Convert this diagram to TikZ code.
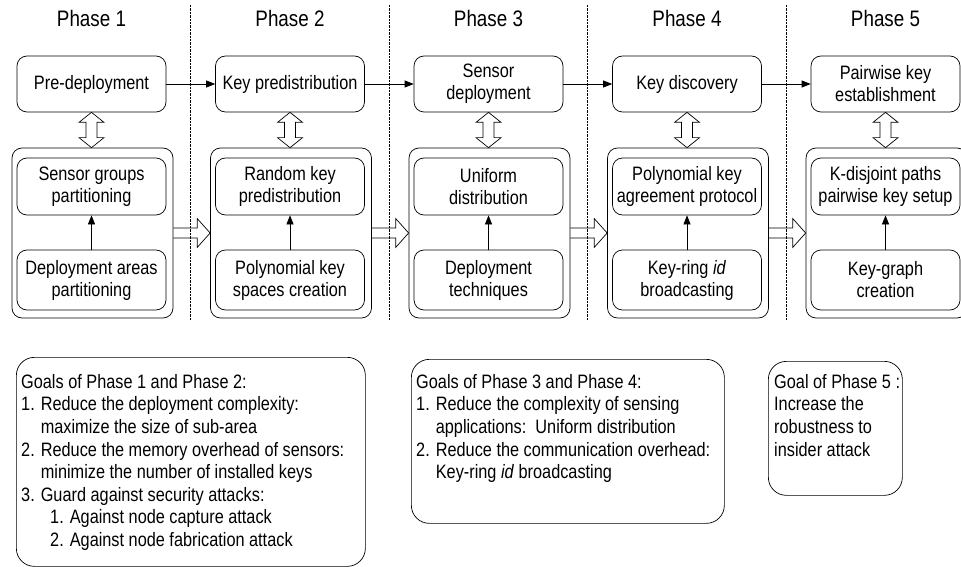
\documentclass[tikz,border=0pt]{standalone}
\usepackage{fontspec}
\setmainfont[FakeStretch=0.84]{Liberation Sans}
\usetikzlibrary{calc,arrows.meta}

\newcommand\phfont{\fontsize{22.4}{25}\selectfont}
\newcommand\bxfont{\fontsize{19.4}{22}\selectfont}
\newcommand\glfont{\fontsize{19.4}{22.6}\selectfont}

% vertical hollow double arrow between a phase box and its detail frame
\newcommand\vdarrow[2]{%
  \draw[outl] let \p1=(#1.south), \p2=(#2.north) in
    (\x1,\y1) -- (\x1+12.5pt,\y1-10pt) -- (\x1+5.5pt,\y1-10pt) --
    (\x1+5.5pt,\y2+10pt) -- (\x1+12.5pt,\y2+10pt) -- (\x1,\y2) --
    (\x1-12.5pt,\y2+10pt) -- (\x1-5.5pt,\y2+10pt) --
    (\x1-5.5pt,\y1-10pt) -- (\x1-12.5pt,\y1-10pt) -- cycle;}
% horizontal hollow arrow from one detail frame to the next
\newcommand\hrarrow[2]{%
  \draw[outl] let \p1=(#1.east), \p2=(#2.west) in
    (\x1,\y1+5pt) -- (\x2-13pt,\y1+5pt) -- (\x2-13pt,\y1+14.5pt) --
    (\x2,\y1) -- (\x2-13pt,\y1-14.5pt) -- (\x2-13pt,\y1-5pt) -- (\x1,\y1-5pt);}

\begin{document}
\begin{tikzpicture}[x=1pt,y=-1pt,
  outl/.style={line width=0.7pt, line join=miter},
  box/.style={draw, line width=0.7pt, rounded corners=10pt, minimum width=149pt,
    inner sep=0pt, align=center, font=\bxfont},
  topbox/.style={box, minimum height=56pt},
  upbox/.style={box, minimum height=57pt},
  lowbox/.style={box, minimum height=60pt},
  frame/.style={draw, line width=0.7pt, rounded corners=10pt, minimum width=161pt,
    minimum height=170pt, inner sep=0pt},
  goalbox/.style={draw, line width=0.7pt, rounded corners=18pt, anchor=north west, inner sep=0pt},
  goaltext/.style={anchor=north west, inner sep=0pt, align=left, font=\glfont},
  phase/.style={font=\phfont, inner sep=0pt},
  arr/.style={line width=0.7pt, -{Triangle[length=9pt,width=7pt]}},
  sep/.style={line width=0.9pt, dash pattern=on 2.4pt off 1pt}]
\useasboundingbox (0,0) rectangle (961,567);

% phase separators
\foreach \x in {190.5,389,587.5,786}
  \draw[sep] (\x,5) -- (\x,320);

% phase titles
\node[phase] (p1) at (91.5,18) {Phase 1};
\node[phase] (p2) at (290,18) {Phase 2};
\node[phase] (p3) at (488.5,18) {Phase 3};
\node[phase] (p4) at (687,18) {Phase 4};
\node[phase] (p5) at (885.5,18) {Phase 5};

% main steps
\node[topbox] (t1) at (91.5,84) {Pre-deployment};
\node[topbox] (t2) at (290,84) {Key predistribution};
\node[topbox] (t3) at (488.5,84) {Sensor\\deployment};
\node[topbox] (t4) at (687,84) {Key discovery};
\node[topbox] (t5) at (885.5,84) {Pairwise key\\establishment};

% detail frames
\node[frame] (c1) at (92.5,233) {};
\node[frame] (c2) at (291,233) {};
\node[frame] (c3) at (489.5,233) {};
\node[frame] (c4) at (688,233) {};
\node[frame] (c5) at (886.5,233) {};

\node[upbox] (u1) at (91.5,186.5) {Sensor groups\\partitioning};
\node[upbox] (u2) at (290,186.5) {Random key\\predistribution};
\node[upbox] (u3) at (488.5,186.5) {Uniform\\distribution};
\node[upbox] (u4) at (687,186.5) {Polynomial key\\agreement protocol};
\node[upbox] (u5) at (885.5,186.5) {K-disjoint paths\\pairwise key setup};

\node[lowbox] (l1) at (91.5,280) {Deployment areas\\partitioning};
\node[lowbox] (l2) at (290,280) {Polynomial key\\spaces creation};
\node[lowbox] (l3) at (488.5,280) {Deployment\\techniques};
\node[lowbox] (l4) at (687,280) {Key-ring \textit{id}\\broadcasting};
\node[lowbox] (l5) at (885.5,280) {Key-graph\\creation};

% connectors
\draw[arr] (t1.east) -- (t2.west);
\draw[arr] (t2.east) -- (t3.west);
\draw[arr] (t3.east) -- (t4.west);
\draw[arr] (t4.east) -- (t5.west);
\foreach \i in {1,...,5} {
  \draw[arr] (l\i.north) -- (u\i.south);
  \vdarrow{t\i}{c\i}
}
\hrarrow{c1}{c2}
\hrarrow{c2}{c3}
\hrarrow{c3}{c4}
\hrarrow{c4}{c5}

% goals
\node[goalbox, minimum width=349pt, minimum height=209pt] (g1) at (16,357) {};
\node[goaltext] (g1t) at ($(g1.north west)+(5,17)$) {Goals of Phase 1 and Phase 2:\\
1. Reduce the deployment complexity:\\
\phantom{1. }maximize the size of sub-area\\
2. Reduce the memory overhead of sensors:\\
\phantom{1. }minimize the number of installed keys\\
3. Guard against security attacks:\\
\hspace*{29pt}1. Against node capture attack\\
\hspace*{29pt}2. Against node fabrication attack};

\node[goalbox, minimum width=313pt, minimum height=164pt] (g2) at (411,359) {};
\node[goaltext] (g2t) at ($(g2.north west)+(5,15)$) {Goals of Phase 3 and Phase 4:\\
1. Reduce the complexity of sensing\\
\phantom{1. }applications:\ \ Uniform distribution\\
2. Reduce the communication overhead:\\
\phantom{1. }Key-ring \textit{id} broadcasting};

\node[goalbox, minimum width=134pt, minimum height=134pt] (g3) at (768,361) {};
\node[goaltext] (g3t) at ($(g3.north west)+(6,13)$) {Goal of Phase 5 :\\
Increase the\\
robustness to\\
insider attack};
\end{tikzpicture}
\end{document}
